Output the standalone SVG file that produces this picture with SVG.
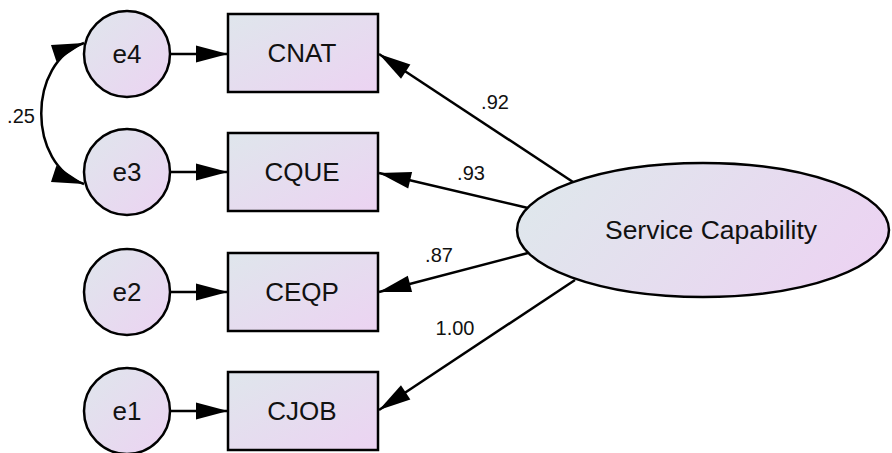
<svg xmlns="http://www.w3.org/2000/svg" width="892" height="453" viewBox="0 0 892 453">
  <defs>
    <linearGradient id="fillBox" x1="0" y1="0" x2="1" y2="1">
      <stop offset="0" stop-color="#dfe6ec"/>
      <stop offset="1" stop-color="#ecd3f2"/>
    </linearGradient>
    <linearGradient id="fillOval" x1="0" y1="0.35" x2="1" y2="0.65">
      <stop offset="0" stop-color="#dfe7ec"/>
      <stop offset="1" stop-color="#ecd3f2"/>
    </linearGradient>
    <marker id="head" markerUnits="userSpaceOnUse" markerWidth="32" markerHeight="17" refX="32" refY="8.5" orient="auto-start-reverse" overflow="visible">
      <path d="M0,0 L32,8.5 L0,17 Z" fill="#000"/>
    </marker>
  </defs>
  <style>
    .node { fill: url(#fillBox); stroke: #000; stroke-width: 2.5; }
    .oval { fill: url(#fillOval); stroke: #000; stroke-width: 2.5; }
    .lbl { font-family: "Liberation Sans", Arial, sans-serif; font-size: 26px; fill: #111; text-anchor: middle; }
    .coef { font-family: "Liberation Sans", Arial, sans-serif; font-size: 20px; fill: #111; text-anchor: middle; }
    .edge { fill: none; stroke: #000; stroke-width: 2.5; marker-end: url(#head); }
  </style>

  <!-- error terms -->
  <g id="e4"><circle class="node" cx="127" cy="54" r="43"/><text class="lbl" x="127" y="54" dy="0.35em">e4</text></g>
  <g id="e3"><circle class="node" cx="127" cy="172" r="43"/><text class="lbl" x="127" y="172" dy="0.35em">e3</text></g>
  <g id="e2"><circle class="node" cx="127" cy="292" r="43"/><text class="lbl" x="127" y="292" dy="0.35em">e2</text></g>
  <g id="e1"><circle class="node" cx="127" cy="411" r="43"/><text class="lbl" x="127" y="411" dy="0.35em">e1</text></g>

  <!-- observed indicators -->
  <g id="CNAT"><rect class="node" x="228" y="14" width="150" height="78"/><text class="lbl" x="302" y="53" dy="0.35em">CNAT</text></g>
  <g id="CQUE"><rect class="node" x="228" y="133" width="150" height="78"/><text class="lbl" x="302" y="172" dy="0.35em">CQUE</text></g>
  <g id="CEQP"><rect class="node" x="228" y="253" width="150" height="78"/><text class="lbl" x="302" y="292" dy="0.35em">CEQP</text></g>
  <g id="CJOB"><rect class="node" x="228" y="372" width="150" height="78"/><text class="lbl" x="302" y="411" dy="0.35em">CJOB</text></g>

  <!-- latent factor -->
  <g id="ServiceCapability"><ellipse class="oval" cx="703" cy="230" rx="186" ry="67"/><text class="lbl" x="711" y="239" style="font-size:26.5px">Service Capability</text></g>

  <g id="connectors">
    <!-- error paths -->
    <line class="edge" x1="171" y1="54" x2="228" y2="54"/>
    <line class="edge" x1="171" y1="172" x2="228" y2="172"/>
    <line class="edge" x1="171" y1="292" x2="228" y2="292"/>
    <line class="edge" x1="171" y1="411" x2="228" y2="411"/>
    <!-- factor loadings -->
    <line class="edge" x1="573" y1="182" x2="379" y2="54"/>
    <line class="edge" x1="528" y1="208" x2="379" y2="173"/>
    <line class="edge" x1="528" y1="253" x2="379" y2="292"/>
    <line class="edge" x1="575" y1="280" x2="379" y2="410"/>
    <!-- covariance e4 <-> e3 -->
    <path class="edge" d="M84,43 C27,62 27,165 84,184" marker-start="url(#head)"/>
  </g>

  <g id="estimates">
    <text class="coef" x="495" y="102" dy="0.35em">.92</text>
    <text class="coef" x="471" y="173" dy="0.35em">.93</text>
    <text class="coef" x="439" y="255" dy="0.35em">.87</text>
    <text class="coef" x="455" y="328" dy="0.35em">1.00</text>
    <text class="coef" x="21" y="116" dy="0.35em">.25</text>
  </g>
</svg>
